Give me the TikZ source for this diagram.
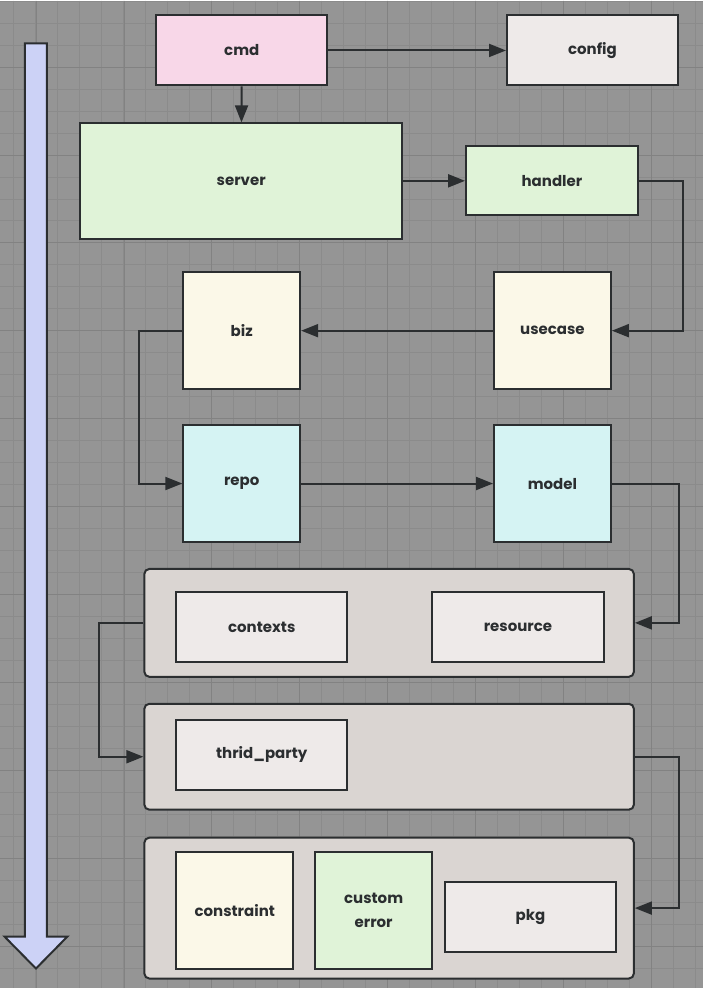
\documentclass[tikz,border=0pt]{standalone}
\usepackage{fontspec}
\setmainfont{Poppins}
\usepackage{tikz}
\usetikzlibrary{arrows.meta,positioning,calc}
\usepackage{xcolor}

\definecolor{bgGray}{HTML}{959595}
\definecolor{gridMinor}{HTML}{8B8B8B}
\definecolor{gridMajor}{HTML}{828282}
\definecolor{inkDark}{HTML}{2B2E30}
\definecolor{pinkFill}{HTML}{F8D7E8}
\definecolor{greyFill}{HTML}{EEEAE9}
\definecolor{greenFill}{HTML}{E0F3D8}
\definecolor{creamFill}{HTML}{FBF8E8}
\definecolor{cyanFill}{HTML}{D5F3F3}
\definecolor{groupFill}{HTML}{DAD5D2}
\definecolor{flowFill}{HTML}{CCD2F6}

\begin{document}
\begin{tikzpicture}[
    x=1pt, y=-1pt,
    font=\fontsize{15}{24}\selectfont\bfseries,
    box/.style={rectangle, draw=inkDark, line width=2pt, text=inkDark, inner sep=0pt, align=center},
    pinkbox/.style={box, fill=pinkFill},
    greybox/.style={box, fill=greyFill},
    greenbox/.style={box, fill=greenFill},
    creambox/.style={box, fill=creamFill},
    cyanbox/.style={box, fill=cyanFill},
    group/.style={box, fill=groupFill, rounded corners=5pt},
    link/.style={draw=inkDark, line width=2pt, -{Triangle[length=17pt,width=13pt]}}
]

% Background and grid
\fill[bgGray] (0,0) rectangle (703,988);
\foreach \i in {0,...,31} \draw[gridMinor, line width=1pt] ({13.5+22*\i},0) -- ({13.5+22*\i},988);
\foreach \j in {0,...,44} \draw[gridMinor, line width=1pt] (0,{0.7+22*\j}) -- (703,{0.7+22*\j});
\foreach \i in {0,...,7} \draw[gridMajor, line width=1pt] ({35.7+88*\i},0) -- ({35.7+88*\i},988);
\foreach \j in {0,...,10} \draw[gridMajor, line width=1pt] (0,{66.7+88*\j}) -- (703,{66.7+88*\j});

% Flow arrow
\draw[inkDark, fill=flowFill, line width=2pt, line join=miter]
    (24.5,43) -- (46.5,43) -- (46.5,937) -- (67,937) -- (35.5,969) -- (4,937) -- (24.5,937) -- cycle;

% Entry
\node[pinkbox, minimum width=171pt, minimum height=70pt] (cmd) at (241.5,50) {cmd};
\node[greybox, minimum width=171pt, minimum height=70pt] (config) at (592.5,50) {config};

% Transport
\node[greenbox, minimum width=322pt, minimum height=116pt] (server) at (241,181) {server};
\node[greenbox, minimum width=172pt, minimum height=69pt] (handler) at (552,180.5) {handler};

% Business
\node[creambox, minimum width=117pt, minimum height=117pt] (biz) at (241.5,330.5) {biz};
\node[creambox, minimum width=117pt, minimum height=117pt] (usecase) at (552.5,330.5) {usecase};

% Data
\node[cyanbox, minimum width=117pt, minimum height=117pt] (repo) at (241.5,483.5) {repo};
\node[cyanbox, minimum width=117pt, minimum height=117pt] (model) at (552.5,483.5) {model};

% Shared groups
\node[group, minimum width=490pt, minimum height=108pt] (shared) at (389,623) {};
\node[greybox, minimum width=171pt, minimum height=70pt] (contexts) at (261.5,627) {contexts};
\node[greybox, minimum width=172pt, minimum height=70pt] (resource) at (518,627) {resource};

\node[group, minimum width=490pt, minimum height=106pt] (external) at (389,757) {};
\node[greybox, minimum width=171pt, minimum height=70pt] (thirdparty) at (261.5,755) {thrid\_party};

\node[group, minimum width=490pt, minimum height=141pt] (common) at (389,908.5) {};
\node[creambox, minimum width=117pt, minimum height=117pt] (constraint) at (234.5,910.5) {constraint};
\node[greenbox, minimum width=117pt, minimum height=117pt] (customerr) at (373.5,910.5) {custom\\error};
\node[greybox, minimum width=171pt, minimum height=70pt] (pkg) at (530.5,917) {pkg};

% Arrows
\draw[link] (cmd) -- (config);
\draw[link] (cmd) -- (server);
\draw[link] (server.east |- handler) -- (handler);
\draw[link] (handler.east) -- ++(44,0) |- (usecase.east);
\draw[link] (usecase) -- (biz);
\draw[link] (biz.west) -- ++(-43,0) |- (repo.west);
\draw[link] (repo) -- (model);
\draw[link] (model.east) -- ++(67,0) |- (shared.east);
\draw[link] (shared.west) -- ++(-44,0) |- (external.west);
\draw[link] (external.east) -- ++(44,0) |- (common.east);

\end{tikzpicture}
\end{document}
